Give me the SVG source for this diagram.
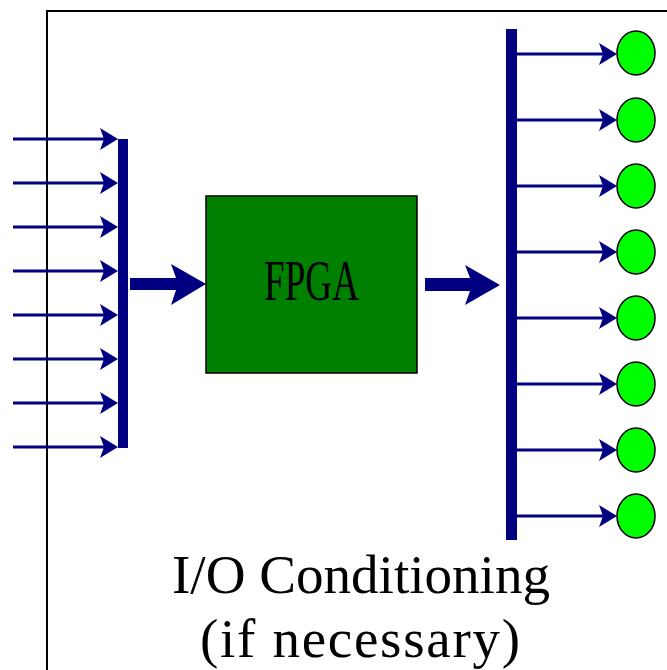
<svg xmlns="http://www.w3.org/2000/svg" width="667" height="670" viewBox="0 0 667 670">
  <style>
    .wire { stroke: #000080; stroke-width: 3; fill: none; }
    .bus { fill: #000080; }
    .big { fill: #000080; }
    .led { fill: #00ff00; stroke: #000000; stroke-width: 1.5; }
    .txt { font-family: "Liberation Serif", "Times New Roman", serif; fill: #000000; }
  </style>
  <defs>
    <marker id="ah" markerUnits="userSpaceOnUse" markerWidth="18" markerHeight="22" viewBox="0 0 18 22" refX="4" refY="11" orient="auto" overflow="visible">
      <path d="M0,0 L18,11 L0,22 L4,11 Z" fill="#000080"/>
    </marker>
  </defs>

  <rect id="board" x="47" y="11" width="700" height="700" fill="#ffffff" stroke="#000000" stroke-width="2"/>

  <g id="connectors">
    <g id="inputs">
      <line class="wire" x1="13" y1="139" x2="104" y2="139" marker-end="url(#ah)"/>
      <line class="wire" x1="13" y1="183" x2="104" y2="183" marker-end="url(#ah)"/>
      <line class="wire" x1="13" y1="227" x2="104" y2="227" marker-end="url(#ah)"/>
      <line class="wire" x1="13" y1="271" x2="104" y2="271" marker-end="url(#ah)"/>
      <line class="wire" x1="13" y1="315" x2="104" y2="315" marker-end="url(#ah)"/>
      <line class="wire" x1="13" y1="359" x2="104" y2="359" marker-end="url(#ah)"/>
      <line class="wire" x1="13" y1="403" x2="104" y2="403" marker-end="url(#ah)"/>
      <line class="wire" x1="13" y1="447" x2="104" y2="447" marker-end="url(#ah)"/>
    </g>
    <g id="outputs">
      <line class="wire" x1="517" y1="54" x2="603" y2="54" marker-end="url(#ah)"/>
      <line class="wire" x1="517" y1="120" x2="603" y2="120" marker-end="url(#ah)"/>
      <line class="wire" x1="517" y1="186" x2="603" y2="186" marker-end="url(#ah)"/>
      <line class="wire" x1="517" y1="252" x2="603" y2="252" marker-end="url(#ah)"/>
      <line class="wire" x1="517" y1="318" x2="603" y2="318" marker-end="url(#ah)"/>
      <line class="wire" x1="517" y1="384" x2="603" y2="384" marker-end="url(#ah)"/>
      <line class="wire" x1="517" y1="450" x2="603" y2="450" marker-end="url(#ah)"/>
      <line class="wire" x1="517" y1="516" x2="603" y2="516" marker-end="url(#ah)"/>
    </g>
    <path id="arrow-in" class="big" d="M130,278 L176,278 L171,264 L206,284 L171,305 L176,290 L130,290 Z"/>
    <path id="arrow-out" class="big" d="M425,278 L470,278 L465,265 L500,285 L465,305 L470,291 L425,291 Z"/>
  </g>

  <g id="input-bus">
    <rect class="bus" x="118" y="139" width="10" height="309"/>
  </g>

  <g id="fpga">
    <rect x="206" y="196" width="211" height="177" fill="#008000" stroke="#000000" stroke-width="1.5"/>
    <text class="txt" x="311.5" y="300" font-size="56" text-anchor="middle" textLength="95" lengthAdjust="spacingAndGlyphs">FPGA</text>
  </g>

  <g id="output-bus">
    <rect class="bus" x="506" y="29" width="11" height="511"/>
  </g>

  <g id="leds">
    <ellipse id="led1" class="led" cx="636" cy="53" rx="19" ry="22"/>
    <ellipse id="led2" class="led" cx="636" cy="120" rx="19" ry="22"/>
    <ellipse id="led3" class="led" cx="636" cy="186" rx="19" ry="22"/>
    <ellipse id="led4" class="led" cx="636" cy="252" rx="19" ry="22"/>
    <ellipse id="led5" class="led" cx="636" cy="318" rx="19" ry="22"/>
    <ellipse id="led6" class="led" cx="636" cy="384" rx="19" ry="22"/>
    <ellipse id="led7" class="led" cx="636" cy="450" rx="19" ry="22"/>
    <ellipse id="led8" class="led" cx="636" cy="516" rx="19" ry="22"/>
  </g>

  <g id="label">
    <text class="txt" x="361" y="593" font-size="55" text-anchor="middle" textLength="378" lengthAdjust="spacingAndGlyphs">I/O Conditioning</text>
    <text class="txt" x="360" y="657" font-size="55" text-anchor="middle" textLength="320" lengthAdjust="spacing">(if necessary)</text>
  </g>
</svg>
